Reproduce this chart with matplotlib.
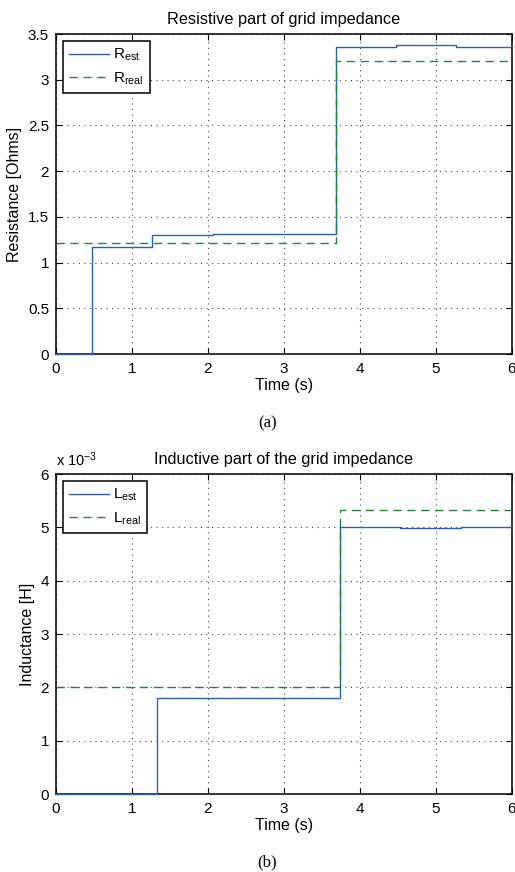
import matplotlib
matplotlib.use('Agg')
import matplotlib.pyplot as plt
import numpy as np

plt.rcParams['font.family'] = ['Liberation Sans', 'DejaVu Sans']
plt.rcParams['mathtext.default'] = 'regular'
plt.rcParams['font.size'] = 11

# Resistive part (step edges in seconds, values in Ohms)
r_est_t = [0, 0.48, 1.27, 2.07, 3.68, 4.48, 5.27, 6]
r_est_v = [0, 1.175, 1.30, 1.316, 3.355, 3.375, 3.355, 3.355]
r_real_t = [0, 3.68, 6]
r_real_v = [1.214, 3.21, 3.21]

# Inductive part (values in H)
l_est_t = [0, 1.33, 3.74, 4.53, 5.33, 6]
l_est_v = [0, 1.795e-3, 5.0e-3, 4.98e-3, 5.0e-3, 5.0e-3]
l_real_t = [0, 3.74, 6]
l_real_v = [2.0e-3, 5.32e-3, 5.32e-3]

blue = '#2f5fb5'
green = '#1a8a3a'

fig = plt.figure(figsize=(5.15, 8.72), dpi=100)
ax1 = fig.add_axes([0.1087, 0.594, 0.8854, 0.367])
ax2 = fig.add_axes([0.1087, 0.0894, 0.8854, 0.367])


def style(ax):
    ax.set_xlim(0, 6)
    ax.grid(True, linestyle=(0, (1, 4)), color='#444444', linewidth=0.8)
    ax.tick_params(direction='in', top=True, right=True, length=4, labelsize=11)
    ax.tick_params(axis='x', pad=6)
    ax.tick_params(axis='y', pad=5)
    for s in ax.spines.values():
        s.set_linewidth(1.1)
    ax.set_xlabel('Time (s)', fontsize=11.5, labelpad=1)


def add_legend(ax):
    leg = ax.legend(loc='upper left', fancybox=False, edgecolor='black', framealpha=1,
                    handlelength=2.6, handletextpad=0.3, borderaxespad=0.45,
                    fontsize=11, labelspacing=0.45, borderpad=0.4)
    leg.get_frame().set_linewidth(1.1)


ax1.step(r_est_t, r_est_v, where='post', color=blue, lw=1.0, label='R$_{est}$',
         clip_on=False, zorder=3)
ax1.step(r_real_t, r_real_v, where='post', color=green, lw=1.0, ls=(0, (6, 4)),
         label='R$_{real}$', zorder=3)
ax1.set_ylim(0, 3.5)
ax1.set_yticks(np.arange(0, 3.51, 0.5))
ax1.set_yticklabels(['0', '0.5', '1', '1.5', '2', '2.5', '3', '3.5'])
ax1.set_xticks(range(7))
ax1.set_ylabel('Resistance [Ohms]', fontsize=11.5)
ax1.set_title('Resistive part of grid impedance', fontsize=11.7, pad=7)
style(ax1)
add_legend(ax1)

ax2.step(l_est_t, np.array(l_est_v) * 1e3, where='post', color=blue, lw=1.0,
         label='L$_{est}$', clip_on=False, zorder=3)
ax2.step(l_real_t, np.array(l_real_v) * 1e3, where='post', color=green, lw=1.0,
         ls=(0, (6, 4)), label='L$_{real}$', zorder=3)
ax2.set_ylim(0, 6)
ax2.set_yticks(range(7))
ax2.set_xticks(range(7))
ax2.set_ylabel('Inductance [H]', fontsize=11.5)
ax2.set_title('Inductive part of the grid impedance', fontsize=11.7, pad=7)
ax2.text(0, 1.015, 'x 10$^{-3}$', transform=ax2.transAxes, fontsize=10.5,
         va='bottom', ha='left')
style(ax2)
add_legend(ax2)

fig.text(0.519, 0.515, '(a)', ha='center', va='center', family='Liberation Serif', fontsize=12)
fig.text(0.519, 0.0115, '(b)', ha='center', va='center', family='Liberation Serif', fontsize=12)

fig.savefig('out.png', dpi=100)
